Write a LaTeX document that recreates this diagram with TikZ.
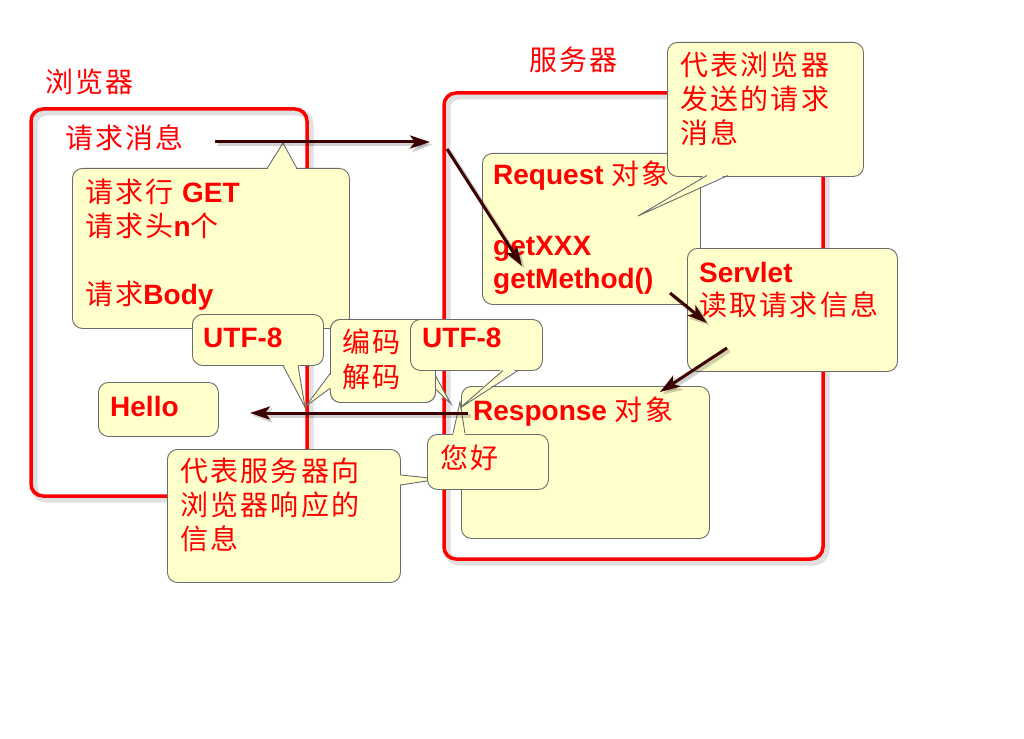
\documentclass[tikz,border=0pt]{standalone}
\usepackage{fontspec}
\setmainfont{Liberation Sans}
\newfontfamily\cjk[LetterSpace=8]{Noto Sans CJK SC}
\usetikzlibrary{arrows.meta}
\definecolor{boxfill}{HTML}{FFFFCC}
\definecolor{boxline}{HTML}{6B6B6B}
\definecolor{arrowcol}{HTML}{3C0000}
\definecolor{txtred}{HTML}{FF0000}
\newcommand\latb[1]{{\normalfont\fontsize{28}{34}\selectfont\bfseries #1}}
\newcommand\cj[1]{{\cjk\mdseries\fontsize{28}{30}\selectfont #1}}
\tikzset{
  box/.style={draw=boxline, fill=boxfill, line width=0.9pt, rounded corners=10pt, rectangle, anchor=north west, inner sep=0pt},
  wedgeline/.style={draw=boxline, line width=0.9pt, line join=miter},
  frame/.style={draw=txtred, line width=3.5pt, rounded corners=12pt},
  frameshadow/.style={draw=black, opacity=0.12, line width=7pt, rounded corners=12pt},
  lbl/.style={anchor=base west, inner sep=0pt, text=txtred, font=\cjk\fontsize{28}{30}\selectfont},
  lat/.style={anchor=base west, inner sep=0pt, text=txtred, font=\fontsize{28}{34}\selectfont\bfseries},
  flow/.style={draw=arrowcol, line width=3pt, -{Stealth[length=20pt,width=13pt,inset=5pt]}},
  flowshadow/.style={draw=black, opacity=0.18, line width=4pt, -{Stealth[length=20pt,width=15pt,inset=5pt]}},
}
\begin{document}
\begin{tikzpicture}[x=1pt,y=-1pt]
\useasboundingbox (0,0) rectangle (1024,738);
\fill[white] (0,0) rectangle (1024,738);

% ---------- frames ----------
\draw[frameshadow] (34,112) rectangle (310,499);
\draw[frame] (31,109) rectangle (307,496);
\node[lbl] (browserlbl) at (45,93) {浏览器};

\draw[frameshadow] (447,96) rectangle (826,562);
\draw[frame] (444,93) rectangle (823,559);
\node[lbl] (serverlbl) at (529,71) {服务器};

\node[lbl] (reqmsg) at (65,149) {请求消息};

% ---------- request-line callout ----------
\node[box, minimum width=277pt, minimum height=160pt] (reqnote) at (72,168) {};
\fill[boxfill] (267,170) -- (283,143) -- (297,170) -- cycle;
\draw[wedgeline] (267,168.5) -- (283,143) -- (297,168.5);
\node[lbl] (rn1) at (85,202) {请求行 \latb{GET}};
\node[lbl] (rn2) at (85,236) {请求头\latb{n}个};
\node[lbl] (rn3) at (85,304) {请求\latb{Body}};

% ---------- Request object ----------
\node[box, minimum width=218pt, minimum height=151pt] (reqobj) at (482,153) {};
\node[lat] (ro1) at (493,185) {Request \cj{对象}};
\node[lat] (ro2) at (493,255) {getXXX};
\node[lat] (ro3) at (493,288) {getMethod()};

% ---------- browser-request description callout ----------
\node[box, minimum width=196pt, minimum height=134pt] (reqdesc) at (667,42) {};
\fill[boxfill] (707,174) -- (638,216) -- (728,174) -- cycle;
\draw[wedgeline] (707,175.5) -- (638,216) -- (728,175.5);
\node[lbl] (rd1) at (680,76) {代表浏览器};
\node[lbl] (rd2) at (680,110) {发送的请求};
\node[lbl] (rd3) at (680,144) {消息};

% ---------- Servlet ----------
\node[box, minimum width=210pt, minimum height=123pt] (servlet) at (687,248) {};
\node[lat] (sv1) at (699,282) {Servlet};
\node[lbl] (sv2) at (699,315) {读取请求信息};

% ---------- Response object ----------
\node[box, minimum width=248pt, minimum height=152pt] (respobj) at (461,386) {};
\node[lat] (rs1) at (473,420) {Response \cj{对象}};

% ---------- Hello ----------
\node[box, minimum width=120pt, minimum height=54pt] (hellobox) at (98,382) {};
\node[lat] (hello) at (110,416) {Hello};

% ---------- UTF-8 left ----------
\node[box, minimum width=131pt, minimum height=51pt] (utfl) at (192,314) {};
\fill[boxfill] (283,363) -- (305,407) -- (298,363) -- cycle;
\draw[wedgeline] (283,365.5) -- (305,407) -- (298,365.5);
\node[lat] (utfltxt) at (203,347) {UTF-8};

% ---------- encode/decode (two stacked callouts) ----------
\node[box, minimum width=105pt, minimum height=83pt] (codecb) at (330,319) {};
\fill[boxfill] (433,374) -- (451,404) -- (433,388) -- cycle;
\draw[wedgeline] (434.5,374) -- (451,404) -- (434.5,388);
\node[box, minimum width=105pt, minimum height=83pt] (codec) at (330,319) {};
\fill[boxfill] (332,373) -- (306,406) -- (332,388) -- cycle;
\draw[wedgeline] (330.5,373) -- (306,406) -- (330.5,388);
\node[lbl] (cd1) at (342,352) {编码};
\node[lbl] (cd2) at (342,387) {解码};

% ---------- UTF-8 right ----------
\node[box, minimum width=132pt, minimum height=51pt] (utfr) at (410,319) {};
\fill[boxfill] (503,368) -- (460,408) -- (518,368) -- cycle;
\draw[wedgeline] (503,370.5) -- (460,408) -- (518,370.5);
\node[lat] (utfrtxt) at (422,347) {UTF-8};

% ---------- server response description callout ----------
\node[box, minimum width=233pt, minimum height=133pt] (respdesc) at (167,449) {};
\fill[boxfill] (398,475) -- (440,479) -- (398,485) -- cycle;
\draw[wedgeline] (400.5,475) -- (440,479) -- (400.5,485);
\node[lbl] (sd1) at (180,481) {代表服务器向};
\node[lbl] (sd2) at (180,515) {浏览器响应的};
\node[lbl] (sd3) at (180,549) {信息};

% ---------- nihao ----------
\node[box, minimum width=121pt, minimum height=55pt] (nihao) at (427,434) {};
\fill[boxfill] (453,436) -- (460,402) -- (465,436) -- cycle;
\draw[wedgeline] (453,433.5) -- (460,402) -- (465,433.5);
\node[lbl] (nihaotxt) at (440,468) {您好};

% ---------- arrows ----------
\coordinate (a1s) at (215,142); \coordinate (a1e) at (430,142);
\coordinate (a2s) at (447,149); \coordinate (a2e) at (522,266);
\coordinate (a3s) at (670,293); \coordinate (a3e) at (707,323);
\coordinate (a4s) at (727,348); \coordinate (a4e) at (660,392);
\coordinate (a5s) at (468,413); \coordinate (a5e) at (250,413);
\foreach \s/\e in {a1s/a1e, a2s/a2e, a3s/a3e, a4s/a4e, a5s/a5e}{
  \draw[flowshadow, transform canvas={shift={(2.5pt,-2.5pt)}}] (\s) -- (\e);
}
\foreach \s/\e in {a1s/a1e, a2s/a2e, a3s/a3e, a4s/a4e, a5s/a5e}{
  \draw[flow] (\s) -- (\e);
}
\end{tikzpicture}
\end{document}
